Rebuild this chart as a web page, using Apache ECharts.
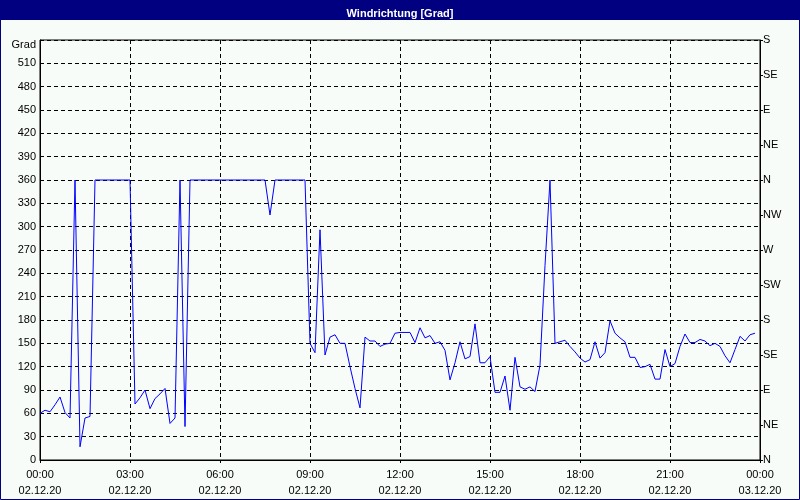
<!DOCTYPE html>
<html>
<head>
<meta charset="utf-8">
<script src="https://cdn.jsdelivr.net/npm/echarts@6/dist/echarts.min.js"></script>
<style>
html,body{margin:0;padding:0;background:#F8FCF8;}
#chart{width:800px;height:500px;}
</style>
</head>
<body>
<div id="chart"></div>
<script>
// ---- data ----
var chartTitle = 'Windrichtung [Grad]';
var unitLabel = 'Grad';
var startMinute = 0;      // 02.12.20 00:00
var stepMinutes = 10;     // sampling interval
var windDirection = [
  60, 64, 62, 71, 81, 61, 54, 360, 17, 54,
  56, 360, 360, 360, 360, 360, 360, 360, 360, 72,
  80, 90, 66, 79, 85, 92, 47, 54, 360, 43,
  360, 360, 360, 360, 360, 360, 360, 360, 360, 360,
  360, 360, 360, 360, 360, 360, 315, 360, 360, 360,
  360, 360, 360, 360, 150, 138, 296, 135, 158, 161,
  150, 150, 120, 92, 67, 158, 153, 153, 146, 149,
  150, 163, 164, 164, 164, 151, 170, 157, 160, 150,
  152, 141, 103, 125, 152, 130, 133, 175, 125, 125,
  133, 87, 87, 108, 64, 132, 94, 91, 94, 88,
  122, 250, 360, 150, 152, 154, 146, 139, 131, 126,
  129, 152, 131, 138, 179, 163, 157, 152, 132, 132,
  119, 120, 123, 104, 104, 142, 120, 124, 146, 162,
  151, 151, 155, 153, 147, 150, 146, 134, 125, 142,
  159, 153, 161, 163
];
var xTickTimes = ['00:00','03:00','06:00','09:00','12:00','15:00','18:00','21:00','00:00'];
var xTickDates = ['02.12.20','02.12.20','02.12.20','02.12.20','02.12.20','02.12.20','02.12.20','02.12.20','03.12.20'];
var compassLabels = ['N','NE','E','SE','S','SW','W','NW','N','NE','E','SE','S'];

// ---- chart ----
var seriesData = windDirection.map(function(v, i){ return [startMinute + i*stepMinutes, v]; });
var font = '"Liberation Sans Narrow", "Liberation Sans", Arial, sans-serif';
var chart = echarts.init(document.getElementById('chart'), null, {renderer:'canvas'});
chart.setOption({
  backgroundColor: '#F8FCF8',
  animation: false,
  title: {
    text: chartTitle, left: 'center', top: 3,
    textStyle: {color:'#FFFFFF', fontSize:11, fontWeight:'bold', fontFamily: font}
  },
  graphic: [
    {type:'rect', z:-1, shape:{x:0,y:0,width:800,height:20}, style:{fill:'#000080'}},
    {type:'rect', z:-1, shape:{x:0.5,y:0.5,width:799,height:499}, style:{fill:null, stroke:'#000080', lineWidth:1}}
  ],
  grid: {left:40, right:40, top:40, bottom:40, show:true, backgroundColor:'#F8FCF8', borderColor:'#000000', borderWidth:1},
  xAxis: {
    type:'value', min:0, max:1440, interval:180,
    axisLine:{show:true, lineStyle:{color:'#000', width:1}},
    axisTick:{show:true, length:3, lineStyle:{color:'#000'}},
    splitLine:{show:true, lineStyle:{color:'#000', type:[4,3], width:1}},
    axisLabel:{
      color:'#000', fontSize:11, fontFamily:font, margin:7, lineHeight:16,
      formatter:function(v){ var k=Math.round(v/180); return xTickTimes[k]+'\n'+xTickDates[k]; }
    }
  },
  yAxis: [
    {
      type:'value', min:0, max:540, interval:30, position:'left',
      axisLine:{show:true, lineStyle:{color:'#000', width:1}},
      axisTick:{show:false},
      splitLine:{show:true, lineStyle:{color:'#000', type:[4,3], width:1}},
      axisLabel:{
        color:'#000', fontSize:11, fontFamily:font, margin:4,
        formatter:function(v){ return v===540 ? '{g|' + unitLabel + '}' : String(v); },
        rich:{ g:{ color:'#000', fontSize:11, fontFamily:font, padding:[10,0,0,0] } }
      }
    },
    {
      type:'value', min:0, max:540, interval:45, position:'right',
      axisLine:{show:true, lineStyle:{color:'#000', width:1}},
      axisTick:{show:true, length:3, lineStyle:{color:'#000'}},
      splitLine:{show:false},
      axisLabel:{
        color:'#000', fontSize:11, fontFamily:font, margin:3,
        formatter:function(v){ return compassLabels[Math.round(v/45)]; }
      }
    }
  ],
  series: [{
    type:'line', data:seriesData, yAxisIndex:0,
    showSymbol:false, symbol:'none',
    lineStyle:{color:'#0000FF', width:1}
  }]
});
</script>
</body>
</html>
